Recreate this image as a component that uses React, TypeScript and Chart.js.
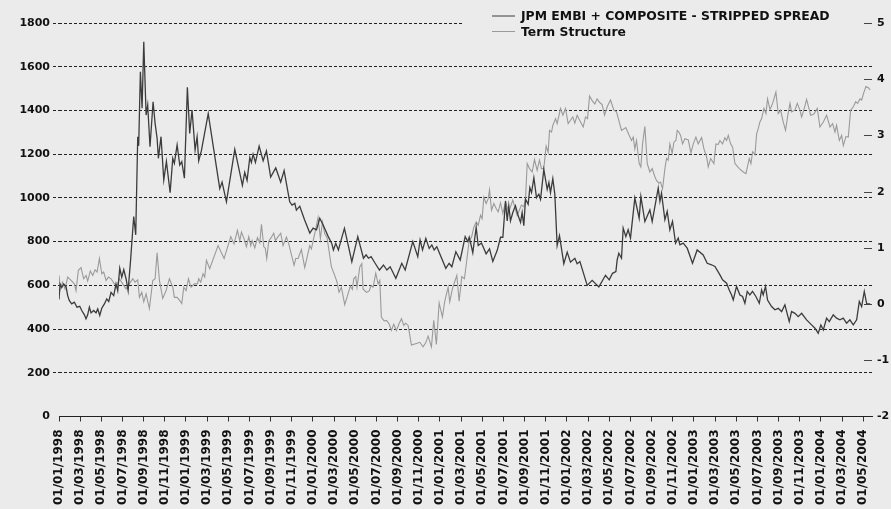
import React, { useEffect, useRef } from 'react';
import { Chart, registerables } from 'chart.js';

Chart.register(...registerables);

const BG = '#ebebeb';
const FONT = "'DejaVu Sans', sans-serif";

const seriesNames = ['JPM EMBI + COMPOSITE - STRIPPED SPREAD', 'Term Structure'];
const seriesColors = ['#3c3c3c', '#9a9a9a'];

// x tick labels, one every two months starting 01/01/1998
const xTickLabels = [
  '01/01/1998', '01/03/1998', '01/05/1998', '01/07/1998', '01/09/1998', '01/11/1998',
  '01/01/1999', '01/03/1999', '01/05/1999', '01/07/1999', '01/09/1999', '01/11/1999',
  '01/01/2000', '01/03/2000', '01/05/2000', '01/07/2000', '01/09/2000', '01/11/2000',
  '01/01/2001', '01/03/2001', '01/05/2001', '01/07/2001', '01/09/2001', '01/11/2001',
  '01/01/2002', '01/03/2002', '01/05/2002', '01/07/2002', '01/09/2002', '01/11/2002',
  '01/01/2003', '01/03/2003', '01/05/2003', '01/07/2003', '01/09/2003', '01/11/2003',
  '01/01/2004', '01/03/2004', '01/05/2004',
];

// time of each observation, in months since 01/01/1998
const spreadMonths = [
  0, 0.1, 0.26, 0.44, 0.66, 0.82, 0.98, 1.2, 1.45, 1.7, 1.96, 2.15, 2.4, 2.55, 2.71, 2.87, 3.03, 3.28, 3.5, 3.66,
  3.85, 4.04, 4.29, 4.51, 4.7, 4.92, 5.17, 5.39, 5.55, 5.74, 5.93, 6.12, 6.34, 6.53, 6.75, 7.06, 7.25, 7.44, 7.53, 7.69,
  7.85, 8.01, 8.23, 8.38, 8.6, 8.89, 9.08, 9.27, 9.39, 9.64, 9.9, 10.15, 10.5, 10.75, 10.9, 11.16, 11.41, 11.6, 11.85, 12.13,
  12.35, 12.57, 12.86, 13.05, 13.2, 13.45, 14.1, 15.19, 15.41, 15.82, 16.61, 17.33, 17.55, 17.77, 18.03, 18.18, 18.34, 18.56, 18.91, 19.29,
  19.6, 20.0, 20.48, 20.95, 21.27, 21.8, 22.02, 22.28, 22.43, 22.75, 23.2, 23.7, 24.01, 24.33, 24.64, 24.95, 25.43, 25.77, 25.93, 26.15,
  26.4, 26.66, 26.97, 27.29, 27.67, 28.23, 28.77, 29.02, 29.24, 29.49, 29.87, 30.28, 30.66, 30.98, 31.29, 31.83, 32.39, 32.71, 33.43, 33.9,
  34.12, 34.35, 34.66, 34.98, 35.23, 35.45, 35.7, 36.55, 36.86, 37.12, 37.5, 37.91, 38.38, 38.63, 38.76, 38.88, 39.1, 39.42, 39.61, 39.92,
  40.36, 40.68, 40.99, 41.4, 41.72, 41.94, 42.19, 42.35, 42.5, 42.66, 42.88, 43.13, 43.39, 43.61, 43.76, 43.92, 44.08, 44.33, 44.49, 44.65,
  44.87, 45.12, 45.34, 45.5, 45.81, 46.13, 46.29, 46.44, 46.66, 46.85, 47.07, 47.29, 47.7, 48.02, 48.33, 48.74, 48.96, 49.22, 49.91, 50.38,
  51.01, 51.64, 51.99, 52.3, 52.62, 52.74, 52.9, 53.15, 53.31, 53.56, 53.78, 54.0, 54.41, 54.82, 54.98, 55.36, 55.83, 56.05, 56.62, 56.78,
  56.93, 57.25, 57.47, 57.72, 57.97, 58.26, 58.51, 58.67, 58.98, 59.36, 59.86, 60.3, 60.87, 61.25, 61.66, 61.98, 62.45, 62.7, 63.08, 63.33,
  63.55, 63.71, 64.02, 64.34, 64.59, 64.81, 65.03, 65.28, 65.53, 65.85, 66.17, 66.39, 66.54, 66.76, 66.95, 67.33, 67.65, 67.96, 68.28, 68.59,
  69.0, 69.22, 69.54, 69.85, 70.17, 70.64, 71.11, 71.43, 71.74, 71.99, 72.22, 72.53, 72.78, 73.16, 73.47, 73.79, 74.1, 74.42, 74.73, 75.05,
  75.37, 75.62, 75.84, 76.09, 76.32, 76.65,
];

// JPM EMBI+ composite stripped spread (left axis, bp)
const spreadValues = [
  535, 606, 590, 606, 595, 553, 530, 515, 523, 500, 504, 485, 465, 447, 465, 500, 474, 485, 474, 492,
  462, 495, 515, 538, 526, 568, 553, 606, 576, 678, 637, 672, 629, 576, 706, 915, 831, 1280, 1238, 1577,
  1410, 1714, 1379, 1425, 1234, 1440, 1341, 1273, 1181, 1280, 1082, 1166, 1024, 1181, 1158, 1242, 1150, 1166, 1090, 1506,
  1295, 1402, 1219, 1280, 1170, 1215, 1385, 1042, 1072, 982, 1222, 1057, 1117, 1080, 1185, 1162, 1200, 1162, 1237, 1170,
  1215, 1095, 1137, 1072, 1125, 982, 967, 975, 944, 962, 900, 839, 862, 854, 907, 877, 824, 792, 762, 792,
  762, 808, 861, 792, 708, 823, 724, 739, 724, 731, 701, 670, 693, 670, 685, 632, 701, 670, 800, 731,
  808, 762, 815, 769, 785, 762, 777, 678, 701, 685, 754, 716, 823, 800, 820, 797, 749, 865, 782, 794,
  744, 767, 709, 759, 820, 820, 986, 895, 964, 895, 933, 964, 918, 888, 933, 873, 994, 971, 1047, 1024,
  1092, 1001, 1017, 994, 1130, 1039, 1070, 1024, 1088, 1017, 782, 827, 699, 752, 706, 724, 699, 709, 600, 623,
  593, 646, 625, 655, 663, 716, 747, 724, 862, 823, 854, 816, 999, 907, 1006, 892, 945, 892, 1045, 984,
  1022, 900, 938, 854, 892, 793, 816, 785, 793, 770, 701, 762, 739, 701, 694, 686, 648, 625, 610, 579,
  556, 533, 595, 556, 549, 518, 572, 556, 572, 549, 518, 579, 556, 595, 533, 503, 488, 495, 480, 511,
  434, 480, 472, 457, 472, 442, 419, 404, 381, 419, 396, 450, 434, 465, 450, 442, 450, 427, 442, 419,
  442, 526, 503, 572, 515, 515,
];

const termMonths = [
  0, 0.13, 0.35, 0.57, 0.82, 1.14, 1.45, 1.61, 1.83, 2.08, 2.33, 2.56, 2.71, 2.96, 3.19, 3.41, 3.6, 3.82, 4.04, 4.22,
  4.45, 4.67, 4.92, 5.23, 5.48, 5.71, 6.02, 6.34, 6.65, 6.97, 7.19, 7.44, 7.6, 7.82, 8.01, 8.23, 8.54, 8.86, 9.08, 9.27,
  9.49, 9.8, 10.12, 10.43, 10.75, 10.9, 11.16, 11.38, 11.6, 11.79, 12.01, 12.23, 12.48, 12.79, 13.08, 13.2, 13.39, 13.61, 13.77, 13.93,
  14.24, 15.03, 15.6, 16.23, 16.54, 16.86, 17.08, 17.24, 17.49, 17.71, 17.93, 18.12, 18.25, 18.5, 18.75, 18.97, 19.13, 19.35, 19.5, 19.63,
  19.82, 20.07, 20.29, 20.45, 20.7, 20.95, 21.17, 21.49, 21.71, 22.21, 22.37, 22.59, 22.9, 23.22, 23.69, 23.85, 24.16, 24.48, 24.7, 24.89,
  25.11, 25.33, 25.74, 26.05, 26.27, 26.46, 26.68, 27.0, 27.31, 27.53, 27.72, 27.85, 28.04, 28.16, 28.42, 28.61, 28.73, 29.05, 29.3, 29.49,
  29.68, 29.93, 30.15, 30.31, 30.46, 30.72, 30.94, 31.19, 31.41, 31.63, 31.88, 32.13, 32.36, 32.58, 32.76, 32.99, 33.3, 33.77, 34.09, 34.4,
  34.65, 34.88, 35.19, 35.41, 35.66, 35.92, 36.23, 36.45, 36.77, 36.92, 37.17, 37.59, 37.81, 38.06, 38.31, 38.53, 38.76, 38.98, 39.2, 39.42,
  39.61, 39.83, 39.98, 40.14, 40.36, 40.55, 40.68, 40.87, 41.09, 41.31, 41.5, 41.72, 41.94, 42.19, 42.5, 42.88, 43.29, 43.7, 43.92, 44.08,
  44.24, 44.46, 44.71, 44.93, 45.18, 45.4, 45.59, 45.81, 46.03, 46.22, 46.35, 46.54, 46.66, 46.92, 47.07, 47.39, 47.61, 47.86, 48.11, 48.33,
  48.55, 48.74, 48.96, 49.28, 49.53, 49.75, 49.94, 50.13, 50.38, 50.63, 50.85, 51.07, 51.32, 51.55, 51.8, 52.11, 52.43, 52.68, 53.15, 53.56,
  53.88, 54.1, 54.26, 54.41, 54.57, 54.82, 54.98, 55.14, 55.36, 55.58, 55.83, 56.05, 56.31, 56.46, 56.68, 56.84, 57.03, 57.25, 57.41, 57.56,
  57.72, 57.94, 58.1, 58.29, 58.42, 58.57, 58.73, 58.92, 59.14, 59.46, 59.71, 59.93, 60.18, 60.4, 60.72, 60.94, 61.19, 61.35, 61.57, 61.88,
  62.07, 62.29, 62.45, 62.7, 62.92, 63.08, 63.24, 63.46, 63.65, 63.87, 64.28, 64.66, 64.91, 65.22, 65.38, 65.54, 65.76, 65.92, 66.07, 66.23,
  66.39, 66.61, 66.8, 66.95, 67.18, 67.43, 67.74, 67.96, 68.18, 68.43, 68.65, 68.84, 69.07, 69.22, 69.54, 69.76, 70.01, 70.17, 70.42, 70.64,
  70.86, 71.02, 71.33, 71.65, 71.9, 72.22, 72.53, 72.85, 73.1, 73.32, 73.47, 73.73, 73.95, 74.11, 74.36, 74.58, 74.8, 75.05, 75.28, 75.46,
  75.68, 75.84, 76.06, 76.25, 76.47, 76.65,
];

// Term structure (right axis)
const termValues = [
  0.51, 0.27, 0.39, 0.27, 0.48, 0.42, 0.36, 0.24, 0.60, 0.65, 0.45, 0.51, 0.41, 0.59, 0.51, 0.61, 0.57, 0.81, 0.54, 0.57,
  0.42, 0.48, 0.45, 0.36, 0.33, 0.45, 0.36, 0.27, 0.36, 0.45, 0.39, 0.43, 0.12, 0.21, 0.04, 0.18, -0.08, 0.42, 0.45, 0.91,
  0.42, 0.10, 0.24, 0.45, 0.30, 0.12, 0.12, 0.07, 0.01, 0.30, 0.24, 0.45, 0.30, 0.36, 0.36, 0.45, 0.39, 0.54, 0.48, 0.78,
  0.63, 1.04, 0.81, 1.20, 1.07, 1.31, 1.13, 1.28, 1.16, 1.02, 1.20, 1.04, 1.13, 1.00, 1.18, 1.09, 1.42, 1.02, 0.99, 0.81,
  1.12, 1.19, 1.26, 1.13, 1.20, 1.26, 1.04, 1.19, 1.07, 0.69, 0.81, 0.81, 0.97, 0.65, 1.04, 0.98, 1.25, 1.54, 1.16, 1.46,
  1.25, 1.18, 0.66, 0.51, 0.39, 0.21, 0.30, -0.01, 0.18, 0.32, 0.26, 0.45, 0.49, 0.30, 0.66, 0.72, 0.27, 0.21, 0.23, 0.33,
  0.30, 0.55, 0.36, 0.42, -0.23, -0.30, -0.29, -0.35, -0.47, -0.36, -0.47, -0.35, -0.26, -0.38, -0.34, -0.38, -0.73, -0.70, -0.68, -0.76,
  -0.69, -0.57, -0.76, -0.29, -0.72, 0.02, -0.23, 0.05, 0.30, 0.04, 0.27, 0.51, 0.05, 0.49, 0.45, 0.78, 1.13, 1.19, 1.37, 1.46,
  1.40, 1.58, 1.52, 1.90, 1.79, 1.87, 2.03, 1.67, 1.79, 1.70, 1.64, 1.80, 1.61, 1.82, 1.64, 1.85, 1.58, 1.76, 1.73, 1.87,
  2.50, 2.41, 2.35, 2.57, 2.38, 2.56, 2.41, 2.41, 2.81, 2.70, 3.09, 3.06, 3.18, 3.30, 3.21, 3.48, 3.36, 3.48, 3.21, 3.27,
  3.33, 3.22, 3.36, 3.24, 3.15, 3.33, 3.30, 3.70, 3.62, 3.56, 3.65, 3.59, 3.55, 3.36, 3.51, 3.63, 3.45, 3.42, 3.09, 3.14,
  3.00, 2.91, 2.97, 2.76, 2.91, 2.50, 2.44, 2.85, 3.16, 2.50, 2.35, 2.41, 2.26, 2.20, 2.15, 2.17, 2.05, 2.41, 2.59, 2.56,
  2.85, 2.68, 2.88, 2.91, 3.09, 3.06, 3.00, 2.85, 2.94, 2.92, 2.69, 2.85, 2.97, 2.85, 2.96, 2.76, 2.62, 2.44, 2.59, 2.50,
  2.85, 2.84, 2.91, 2.85, 2.96, 2.91, 3.00, 2.85, 2.79, 2.50, 2.41, 2.35, 2.32, 2.59, 2.50, 2.71, 2.66, 3.03, 3.12, 3.24,
  3.30, 3.48, 3.39, 3.65, 3.46, 3.57, 3.77, 3.39, 3.45, 3.24, 3.09, 3.33, 3.57, 3.42, 3.45, 3.57, 3.45, 3.33, 3.48, 3.64,
  3.48, 3.36, 3.38, 3.48, 3.15, 3.24, 3.36, 3.15, 3.21, 3.06, 3.18, 2.91, 3.00, 2.82, 2.98, 2.97, 3.45, 3.51, 3.60, 3.57,
  3.65, 3.63, 3.77, 3.87, 3.85, 3.81,
];

const rightTickMarks = [5, 4, 3, 2, 1, 0, -1];

const overlayPlugin = {
  id: 'overlay',
  afterDraw(chart: any) {
    const { ctx, chartArea } = chart;
    const y2 = chart.scales.y2;
    ctx.save();
    // legend box covering part of the top grid line
    const lx = chartArea.right - 380;
    ctx.fillStyle = BG;
    ctx.fillRect(lx - 30, 6, chartArea.right - lx + 20, 36);
    ctx.font = `bold 12.4px ${FONT}`;
    ctx.textBaseline = 'alphabetic';
    seriesNames.forEach((name, i) => {
      const yMid = 15.5 + i * 15.5;
      ctx.strokeStyle = seriesColors[i];
      ctx.lineWidth = 1;
      ctx.beginPath();
      ctx.moveTo(lx, yMid + 0.5);
      ctx.lineTo(lx + 23, yMid + 0.5);
      ctx.stroke();
      ctx.fillStyle = '#111';
      ctx.fillText(name, lx + 29, yMid + 4.8);
    });
    // right-axis tick marks
    ctx.strokeStyle = '#444';
    ctx.lineWidth = 1;
    rightTickMarks.forEach((v) => {
      const y = Math.round(y2.getPixelForValue(v)) + 0.5;
      ctx.beginPath();
      ctx.moveTo(chartArea.right - 8, y);
      ctx.lineTo(chartArea.right, y);
      ctx.stroke();
    });
    ctx.restore();
  },
};

export default function App() {
  const canvasRef = useRef<HTMLCanvasElement | null>(null);

  useEffect(() => {
    if (!canvasRef.current) return;
    Chart.defaults.font.family = FONT;
    const chart = new Chart(canvasRef.current, {
      type: 'line',
      data: {
        datasets: [
          {
            label: seriesNames[0],
            data: spreadMonths.map((m, i) => ({ x: m, y: spreadValues[i] })),
            borderColor: seriesColors[0],
            borderWidth: 1.3,
            pointRadius: 0,
            tension: 0,
            yAxisID: 'y',
          },
          {
            label: seriesNames[1],
            data: termMonths.map((m, i) => ({ x: m, y: termValues[i] })),
            borderColor: seriesColors[1],
            borderWidth: 1.1,
            pointRadius: 0,
            tension: 0,
            yAxisID: 'y2',
          },
        ],
      },
      options: {
        animation: false,
        responsive: false,
        maintainAspectRatio: false,
        layout: { padding: { top: 23, left: 0, right: 0, bottom: 0 } },
        plugins: { legend: { display: false }, tooltip: { enabled: false } },
        scales: {
          x: {
            type: 'linear',
            min: 0,
            max: 76.82,
            afterBuildTicks: (s: any) => {
              s.ticks = xTickLabels.map((_, i) => ({ value: i * 2 }));
            },
            afterFit: (s: any) => {
              s.height = 92.5;
            },
            ticks: {
              autoSkip: false,
              maxRotation: 90,
              minRotation: 90,
              padding: 8,
              color: '#111',
              font: { size: 12, weight: 'bold' },
              callback: (_v: any, i: number) => xTickLabels[i],
            },
            grid: { drawOnChartArea: false, drawTicks: true, tickLength: 5, color: '#333' },
            border: { display: true, color: '#222', width: 1 },
          },
          y: {
            position: 'left',
            min: 0,
            max: 1800,
            afterFit: (s: any) => {
              s.width = 59;
            },
            ticks: {
              stepSize: 200,
              padding: 3,
              color: '#111',
              font: { size: 11, weight: 'bold' },
              callback: (v: any) => String(v),
            },
            grid: {
              color: (c: any) => (c.tick && c.tick.value === 0 ? 'rgba(0,0,0,0)' : '#222'),
              lineWidth: 1,
              tickLength: 6,
              tickBorderDash: [3, 2],
            },
            border: { display: false, dash: [3, 2] },
          },
          y2: {
            position: 'right',
            min: -2,
            max: 5,
            afterFit: (s: any) => {
              s.width = 19;
            },
            ticks: {
              stepSize: 1,
              padding: 5,
              color: '#111',
              font: { size: 11, weight: 'bold' },
              callback: (v: any) => String(v),
            },
            grid: { drawOnChartArea: false, drawTicks: false, color: 'rgba(0,0,0,0)' },
            border: { display: false },
          },
        },
      } as any,
      plugins: [overlayPlugin],
    });
    return () => chart.destroy();
  }, []);

  return (
    <div style={{ position: 'fixed', left: 0, top: 0, width: 891, height: 509, background: BG }}>
      <canvas ref={canvasRef} width={891} height={509} style={{ width: 891, height: 509, display: 'block' }} />
    </div>
  );
}
